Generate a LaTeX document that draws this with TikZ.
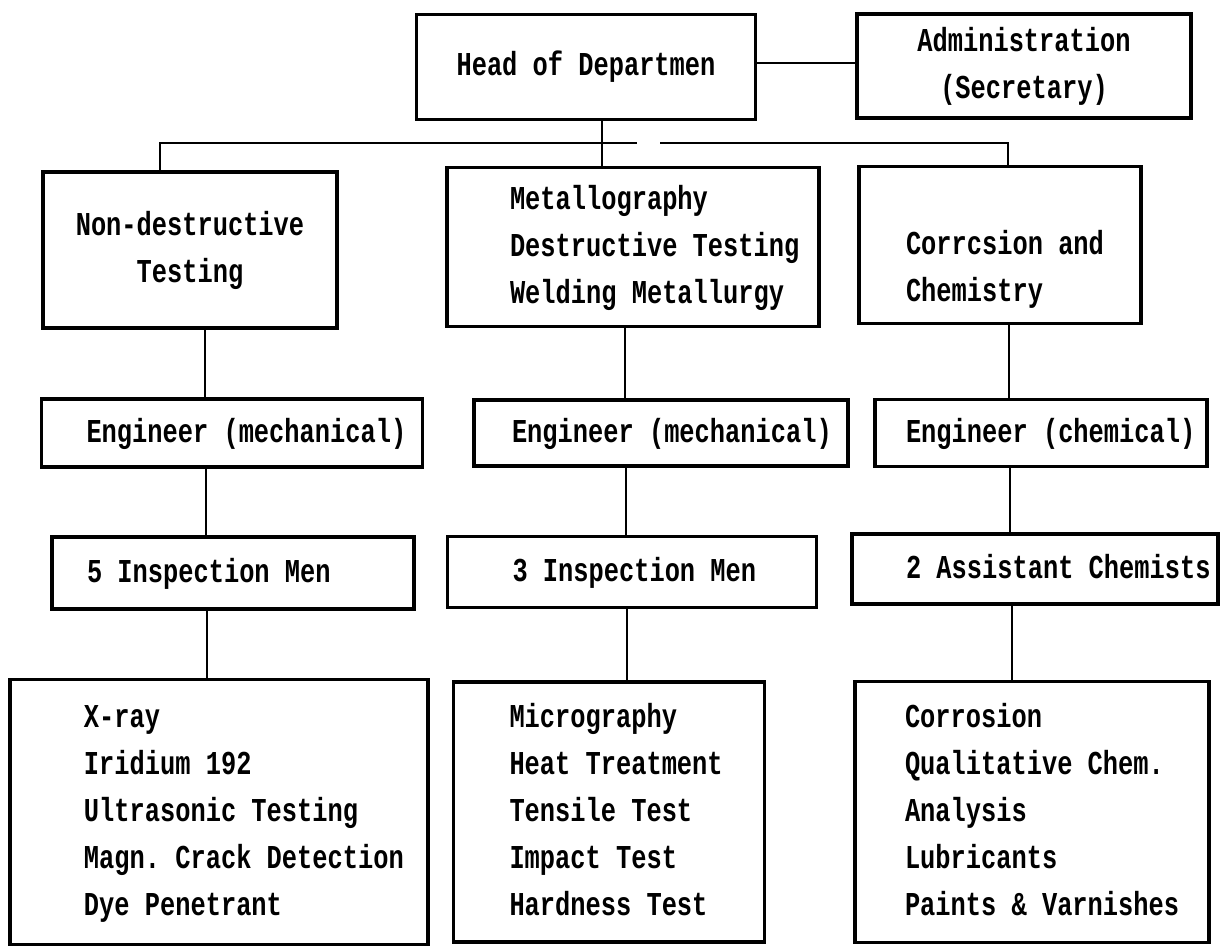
\documentclass[tikz,border=0pt]{standalone}
\usepackage{fontspec}
\setmonofont[FakeStretch=0.76]{Liberation Mono}

% text set flush left from a fixed tab stop
\newcommand{\tabbed}[2]{\makebox[#1][l]{\begin{tabular}{@{}l@{}}#2\end{tabular}}}

\begin{document}
\begin{tikzpicture}
\tikzstyle{box}=[draw, line width=1pt, rectangle, inner sep=0pt, align=left, font=\ttfamily\bfseries\fontsize{9.5}{13.4}\selectfont]
\tikzstyle{wire}=[draw, line width=0.8pt]

\useasboundingbox (0,0) rectangle (12.21,9.46);

% Top level
\node[box, align=center, minimum width=3.39cm, minimum height=1.05cm] (head) at (5.86,8.79) {Head of Departmen};
\node[box, align=center, minimum width=3.34cm, minimum height=1.04cm] (admin) at (10.24,8.80) {Administration\\(Secretary)};

% Sections
\node[box, align=center, minimum width=2.94cm, minimum height=1.56cm] (ndt) at (1.90,6.96) {Non-destructive\\Testing};
\node[box, minimum width=3.72cm, minimum height=1.59cm] (metal) at (6.33,6.99) {\tabbed{2.46cm}{Metallography\\Destructive Testing\\Welding Metallurgy}};
\node[box, minimum width=2.82cm, minimum height=1.57cm] (chem) at (10.00,7.01) {\tabbed{1.88cm}{\\Corrcsion and\\Chemistry}};

% Engineers
\node[box, minimum width=3.81cm, minimum height=0.68cm] (ndteng) at (2.32,5.13) {\tabbed{2.91cm}{Engineer (mechanical)}};
\node[box, minimum width=3.74cm, minimum height=0.66cm] (metaleng) at (6.61,5.13) {\tabbed{2.98cm}{Engineer (mechanical)}};
\node[box, minimum width=3.32cm, minimum height=0.67cm] (chemeng) at (10.41,5.13) {\tabbed{2.70cm}{Engineer (chemical)}};

% Staff
\node[box, minimum width=3.62cm, minimum height=0.72cm] (ndtmen) at (2.33,3.73) {\tabbed{2.92cm}{5 Inspection Men}};
\node[box, minimum width=3.69cm, minimum height=0.71cm] (metalmen) at (6.32,3.74) {\tabbed{2.39cm}{3 Inspection Men}};
\node[box, minimum width=3.66cm, minimum height=0.70cm] (chemmen) at (10.35,3.77) {\tabbed{2.58cm}{2 Assistant Chemists}};

% Work areas
\node[box, minimum width=4.18cm, minimum height=2.65cm] (ndtlist) at (2.19,1.34) {\tabbed{2.70cm}{X-ray\\Iridium 192\\Ultrasonic Testing\\Magn. Crack Detection\\Dye Penetrant}};
\node[box, minimum width=3.11cm, minimum height=2.60cm] (metallist) at (6.09,1.34) {\tabbed{1.99cm}{Micrography\\Heat Treatment\\Tensile Test\\Impact Test\\Hardness Test}};
\node[box, minimum width=3.54cm, minimum height=2.61cm] (chemlist) at (10.32,1.34) {\tabbed{2.54cm}{Corrosion\\Qualitative Chem.\\Analysis\\Lubricants\\Paints \& Varnishes}};

% Head to administration and sections
\coordinate (gapL) at (6.37,8.03);
\coordinate (gapR) at (6.60,8.03);
\draw[wire] (head.east |- 0,8.83) -- (admin.west |- 0,8.83);
\draw[wire] (head.south -| 6.02,0) -- (metal.north -| 6.02,0);
\draw[wire] (ndt.north -| 1.60,0) |- (gapL);
\draw[wire] (gapR) -| (chem.north -| 10.08,0);

% Columns
\draw[wire] (ndt.south -| 2.05,0) -- (ndteng.north -| 2.05,0);
\draw[wire] (ndteng.south -| 2.06,0) -- (ndtmen.north -| 2.06,0);
\draw[wire] (ndtmen.south -| 2.07,0) -- (ndtlist.north -| 2.07,0);
\draw[wire] (metal.south -| 6.25,0) -- (metaleng.north -| 6.25,0);
\draw[wire] (metaleng.south -| 6.26,0) -- (metalmen.north -| 6.26,0);
\draw[wire] (metalmen.south -| 6.27,0) -- (metallist.north -| 6.27,0);
\draw[wire] (chem.south -| 10.09,0) -- (chemeng.north -| 10.09,0);
\draw[wire] (chemeng.south -| 10.10,0) -- (chemmen.north -| 10.10,0);
\draw[wire] (chemmen.south -| 10.12,0) -- (chemlist.north -| 10.12,0);
\end{tikzpicture}
\end{document}
